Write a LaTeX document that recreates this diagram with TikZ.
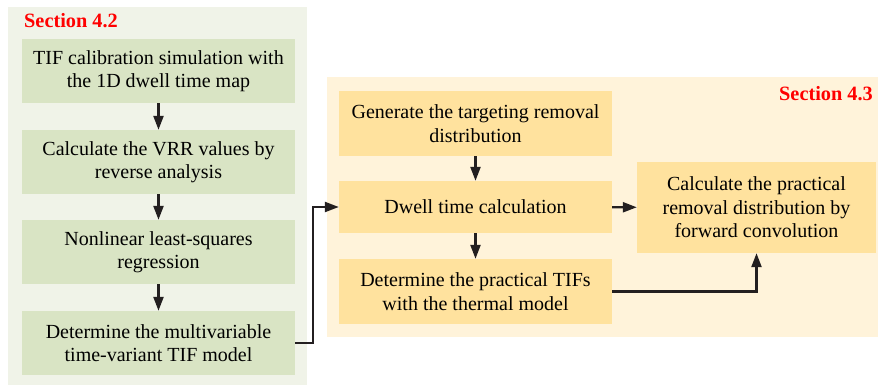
\documentclass[tikz,border=0pt]{standalone}
\usepackage{fontspec}
\setmainfont{Liberation Serif}
\usetikzlibrary{arrows.meta}
\definecolor{panelgreen}{HTML}{F0F3E8}
\definecolor{boxgreen}{HTML}{D9E4C4}
\definecolor{panelyellow}{HTML}{FFF3DA}
\definecolor{boxyellow}{HTML}{FFE29E}
\definecolor{arrowgray}{HTML}{231F20}
\begin{document}
\begin{tikzpicture}[x=1pt,y=-1pt,
    font=\fontsize{20}{23.5}\selectfont,
    greenbox/.style={fill=boxgreen,minimum width=273pt,minimum height=64pt,align=center,inner sep=0pt},
    yellowbox/.style={fill=boxyellow,minimum width=273pt,minimum height=65pt,align=center,inner sep=0pt},
    seclabel/.style={text=red,font=\fontsize{20.3}{24}\selectfont\bfseries,inner sep=0pt},
    flow/.style={draw=arrowgray,line width=2.3pt,-{Triangle[length=14pt,width=10pt]}}]
        \useasboundingbox (0,0) rectangle (878,386);
        \fill[panelgreen]  (8,7)   rectangle (307,385);
        \fill[panelyellow] (327,77) rectangle (878,337);
        \node[seclabel,anchor=west] (sec42) at (24,21) {Section 4.2};
        \node[seclabel,anchor=east] (sec43) at (873,94) {Section 4.3};
        % section 4.2
        \node[greenbox] (calib)   at (158.5,71)  {TIF calibration simulation with\\the 1D dwell time map};
        \node[greenbox] (vrr)     at (158.5,162) {Calculate the VRR values by\\reverse analysis};
        \node[greenbox] (regress) at (158.5,252) {Nonlinear least-squares\\regression};
        \node[greenbox] (tifmod)  at (158.5,343) {Determine the multivariable\\time-variant TIF model};
        % section 4.3
        \node[yellowbox] (target)  at (475.5,123.5) {Generate the targeting removal\\distribution};
        \node[yellowbox,minimum height=52pt] (dwell) at (475.5,207) {Dwell time calculation};
        \node[yellowbox] (prtifs)  at (475.5,291.5) {Determine the practical TIFs\\with the thermal model};
        \node[yellowbox,minimum width=239pt,minimum height=91pt] (forward) at (756.5,207.5)
            {Calculate the practical\\removal distribution by\\forward convolution};
        \coordinate (bend) at (313,343);
        \draw[flow] (calib)   -- (vrr);
        \draw[flow] (vrr)     -- (regress);
        \draw[flow] (regress) -- (tifmod);
        \draw[flow] (tifmod.east) -- (bend) |- (dwell.west);
        \draw[flow] (target)  -- (dwell);
        \draw[flow] (dwell)   -- (prtifs);
        \draw[flow] (dwell)   -- (forward);
        \draw[flow] (prtifs.east) -| (forward.south);
    \end{tikzpicture}
\end{document}
